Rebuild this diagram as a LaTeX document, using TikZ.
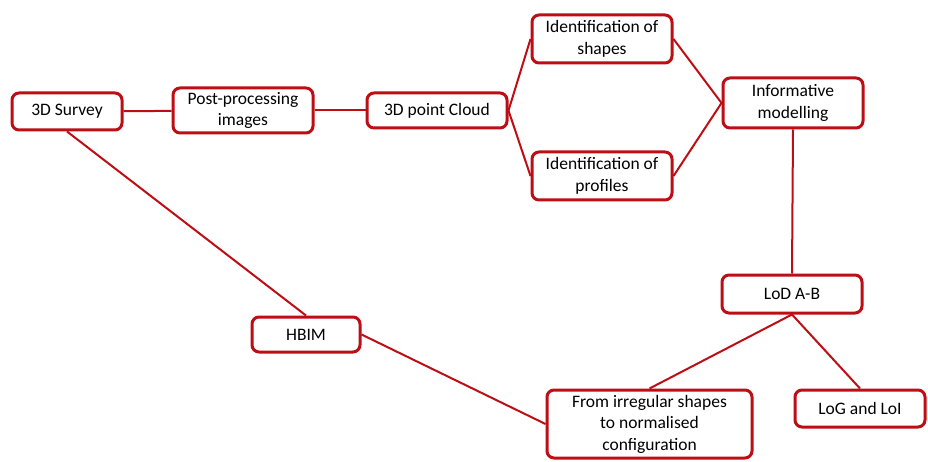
\documentclass[tikz,border=0pt]{standalone}
\usepackage{fontspec}
\setmainfont{Carlito}
\definecolor{boxred}{RGB}{188,14,20}
\begin{document}
\begin{tikzpicture}[x=1pt,y=-1pt,
  box/.style={draw=boxred,line width=3pt,rounded corners=7pt,fill=white,
    align=center,inner sep=2pt,font=\fontsize{17.5}{21.5}\selectfont},
  link/.style={draw=boxred,line width=2pt}]
\useasboundingbox (0,0) rectangle (928,462);
\node[box,minimum width=110pt,minimum height=37pt] (survey) at (67,111.5) {3D Survey};
\node[box,minimum width=140pt,minimum height=45pt] (post) at (243,110.5) {Post-processing\\images};
\node[box,minimum width=140pt,minimum height=35pt] (cloud) at (437,110.5) {3D point Cloud};
\node[box,minimum width=140pt,minimum height=48pt] (shapes) at (602,39) {Identification of\\shapes};
\node[box,minimum width=140pt,minimum height=48pt] (profiles) at (602,176) {Identification of\\profiles};
\node[box,minimum width=140pt,minimum height=50pt] (info) at (793,103) {Informative\\modelling};
\node[box,minimum width=140pt,minimum height=38pt] (lod) at (792,294) {LoD A-B};
\node[box,minimum width=130pt,minimum height=37pt] (log) at (860,408.5) {LoG and LoI};
\node[box,minimum width=108pt,minimum height=35pt] (hbim) at (306,334.5) {HBIM};
\node[box,minimum width=205pt,minimum height=68pt] (irreg) at (649.5,424) {From irregular shapes\\to normalised\\configuration};
\draw[link] (survey) -- (post);
\draw[link] (post) -- (cloud);
\draw[link] (cloud.east) -- (shapes.west);
\draw[link] (cloud.east) -- (profiles.west);
\draw[link] (shapes.east) -- (info.west);
\draw[link] (profiles.east) -- (info.west);
\draw[link] (info.south) -- (lod.north);
\draw[link] (lod.south) -- (irreg.north);
\draw[link] (lod.south) -- (log.north);
\draw[link] (survey.south) -- (hbim.north);
\draw[link] (hbim.east) -- (irreg.west);
\end{tikzpicture}
\end{document}
